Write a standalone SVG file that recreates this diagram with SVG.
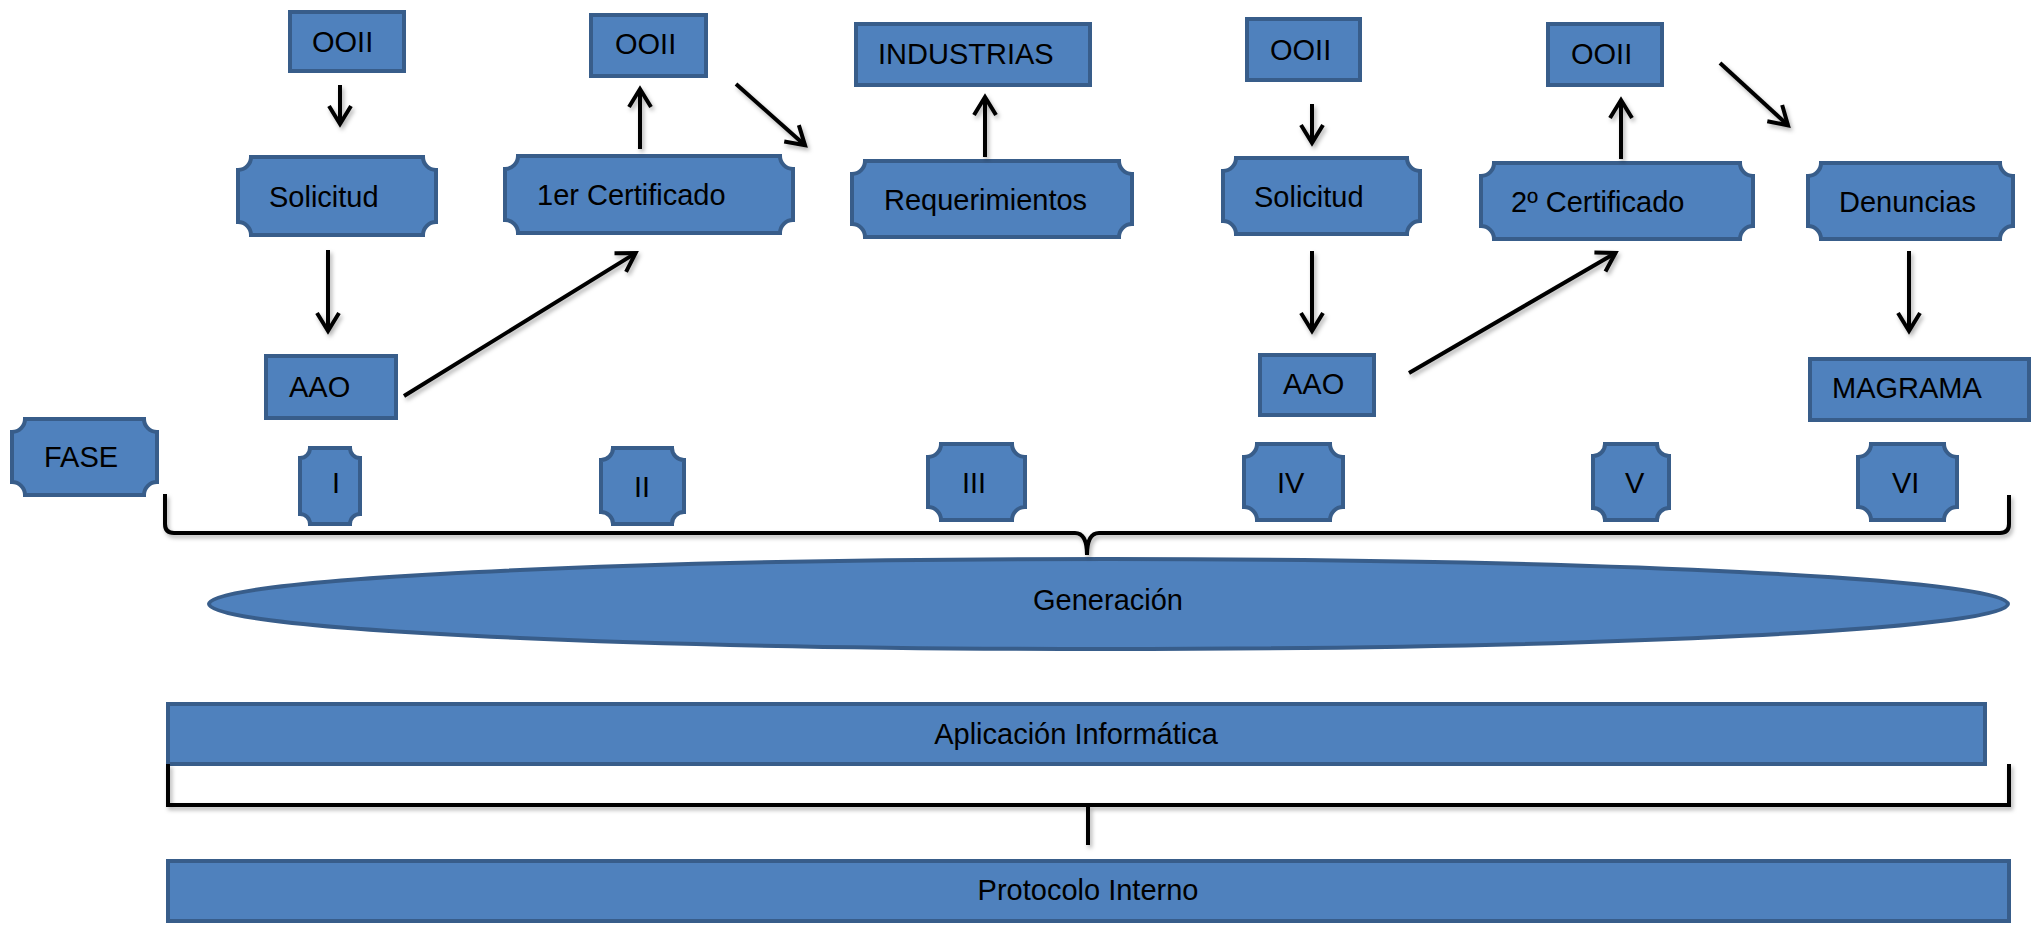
<svg xmlns="http://www.w3.org/2000/svg" width="2040" height="939" viewBox="0 0 2040 939">
  <style>
    .box { fill: #4F81BD; stroke: #385D8A; stroke-width: 4; }
    .lbl { font-family: "Liberation Sans", Arial, sans-serif; font-size: 29px; fill: #000; }
    .arrow { stroke: #000; stroke-width: 4; fill: none; marker-end: url(#head); }
    .brace { stroke: #000; stroke-width: 4; fill: none; }
  </style>
  <defs>
    <marker id="head" viewBox="0 0 24 24" markerWidth="24" markerHeight="24" refX="21" refY="12" orient="auto" markerUnits="userSpaceOnUse" overflow="visible">
      <path d="M3,1 L21,12 L3,23" fill="none" stroke="#000" stroke-width="4"/>
    </marker>
    <filter id="shade" x="-5%" y="-20%" width="110%" height="140%">
      <feDropShadow dx="2" dy="3" stdDeviation="2" flood-color="#000" flood-opacity="0.3"/>
    </filter>
  </defs>

  <rect width="2040" height="939" fill="#fff"/>

  <!-- top row: square boxes -->
  <g id="ooii-1"><rect class="box" x="290" y="12" width="114" height="59"/><text class="lbl" x="312" y="52">OOII</text></g>
  <g id="ooii-2"><rect class="box" x="591" y="15" width="115" height="61"/><text class="lbl" x="615" y="54">OOII</text></g>
  <g id="industrias"><rect class="box" x="856" y="24" width="234" height="61"/><text class="lbl" x="878" y="64">INDUSTRIAS</text></g>
  <g id="ooii-3"><rect class="box" x="1247" y="19" width="113" height="61"/><text class="lbl" x="1270" y="60">OOII</text></g>
  <g id="ooii-4"><rect class="box" x="1548" y="24" width="114" height="61"/><text class="lbl" x="1571" y="64">OOII</text></g>

  <!-- plaque boxes (concave corners) -->
  <g id="solicitud-1"><path class="box" d="M251,157 H423 A13,13 0 0 0 436,170 V222 A13,13 0 0 0 423,235 H251 A13,13 0 0 0 238,222 V170 A13,13 0 0 0 251,157 Z"/><text class="lbl" x="269" y="207">Solicitud</text></g>
  <g id="cert-1"><path class="box" d="M518,156 H780 A13,13 0 0 0 793,169 V220 A13,13 0 0 0 780,233 H518 A13,13 0 0 0 505,220 V169 A13,13 0 0 0 518,156 Z"/><text class="lbl" x="537" y="205">1er Certificado</text></g>
  <g id="requerimientos"><path class="box" d="M865,161 H1119 A13,13 0 0 0 1132,174 V224 A13,13 0 0 0 1119,237 H865 A13,13 0 0 0 852,224 V174 A13,13 0 0 0 865,161 Z"/><text class="lbl" x="884" y="210">Requerimientos</text></g>
  <g id="solicitud-2"><path class="box" d="M1236,158 H1407 A13,13 0 0 0 1420,171 V221 A13,13 0 0 0 1407,234 H1236 A13,13 0 0 0 1223,221 V171 A13,13 0 0 0 1236,158 Z"/><text class="lbl" x="1254" y="207">Solicitud</text></g>
  <g id="cert-2"><path class="box" d="M1494,163 H1740 A13,13 0 0 0 1753,176 V226 A13,13 0 0 0 1740,239 H1494 A13,13 0 0 0 1481,226 V176 A13,13 0 0 0 1494,163 Z"/><text class="lbl" x="1511" y="212">2º Certificado</text></g>
  <g id="denuncias"><path class="box" d="M1821,163 H2000 A13,13 0 0 0 2013,176 V226 A13,13 0 0 0 2000,239 H1821 A13,13 0 0 0 1808,226 V176 A13,13 0 0 0 1821,163 Z"/><text class="lbl" x="1839" y="212">Denuncias</text></g>

  <!-- second level square boxes -->
  <g id="aao-1"><rect class="box" x="266" y="356" width="130" height="62"/><text class="lbl" x="289" y="397">AAO</text></g>
  <g id="aao-2"><rect class="box" x="1260" y="355" width="114" height="60"/><text class="lbl" x="1283" y="394">AAO</text></g>
  <g id="magrama"><rect class="box" x="1810" y="359" width="219" height="61"/><text class="lbl" x="1832" y="398">MAGRAMA</text></g>

  <!-- phase markers -->
  <g id="fase"><path class="box" d="M25,419 H144 A13,13 0 0 0 157,432 V482 A13,13 0 0 0 144,495 H25 A13,13 0 0 0 12,482 V432 A13,13 0 0 0 25,419 Z"/><text class="lbl" x="44" y="467">FASE</text></g>
  <g id="fase-1"><path class="box" d="M310,448 H350 A10,10 0 0 0 360,458 V514 A10,10 0 0 0 350,524 H310 A10,10 0 0 0 300,514 V458 A10,10 0 0 0 310,448 Z"/><text class="lbl" x="332" y="493">I</text></g>
  <g id="fase-2"><path class="box" d="M613,448 H672 A12,12 0 0 0 684,460 V512 A12,12 0 0 0 672,524 H613 A12,12 0 0 0 601,512 V460 A12,12 0 0 0 613,448 Z"/><text class="lbl" x="634" y="497">II</text></g>
  <g id="fase-3"><path class="box" d="M941,444 H1012 A13,13 0 0 0 1025,457 V507 A13,13 0 0 0 1012,520 H941 A13,13 0 0 0 928,507 V457 A13,13 0 0 0 941,444 Z"/><text class="lbl" x="962" y="493">III</text></g>
  <g id="fase-4"><path class="box" d="M1257,444 H1330 A13,13 0 0 0 1343,457 V507 A13,13 0 0 0 1330,520 H1257 A13,13 0 0 0 1244,507 V457 A13,13 0 0 0 1257,444 Z"/><text class="lbl" x="1277" y="493">IV</text></g>
  <g id="fase-5"><path class="box" d="M1605,444 H1657 A12,12 0 0 0 1669,456 V508 A12,12 0 0 0 1657,520 H1605 A12,12 0 0 0 1593,508 V456 A12,12 0 0 0 1605,444 Z"/><text class="lbl" x="1625" y="493">V</text></g>
  <g id="fase-6"><path class="box" d="M1871,444 H1944 A13,13 0 0 0 1957,457 V507 A13,13 0 0 0 1944,520 H1871 A13,13 0 0 0 1858,507 V457 A13,13 0 0 0 1871,444 Z"/><text class="lbl" x="1892" y="493">VI</text></g>

  <!-- lower layers -->
  <g id="generacion"><ellipse class="box" cx="1108.5" cy="604" rx="899.5" ry="45"/><text class="lbl" x="1108" y="610" text-anchor="middle">Generación</text></g>
  <g id="aplicacion"><rect class="box" x="168" y="704" width="1817" height="60"/><text class="lbl" x="1076" y="744" text-anchor="middle">Aplicación Informática</text></g>
  <g id="protocolo"><rect class="box" x="168" y="861" width="1841" height="60"/><text class="lbl" x="1088" y="900" text-anchor="middle">Protocolo Interno</text></g>

  <!-- connectors -->
  <g id="connectors" filter="url(#shade)">
    <line class="arrow" x1="340" y1="85" x2="340" y2="124"/>
    <line class="arrow" x1="328" y1="250" x2="328" y2="331"/>
    <line class="arrow" x1="404" y1="396" x2="635.6" y2="253.1"/>
    <line class="arrow" x1="640" y1="149" x2="640" y2="89"/>
    <line class="arrow" x1="736" y1="84" x2="805" y2="145.3"/>
    <line class="arrow" x1="985" y1="157" x2="985" y2="97"/>
    <line class="arrow" x1="1312" y1="104" x2="1312" y2="143"/>
    <line class="arrow" x1="1312" y1="251" x2="1312" y2="331"/>
    <line class="arrow" x1="1409" y1="373" x2="1615.5" y2="253"/>
    <line class="arrow" x1="1621" y1="159" x2="1621" y2="100"/>
    <line class="arrow" x1="1720" y1="63" x2="1788" y2="125.3"/>
    <line class="arrow" x1="1909" y1="251" x2="1909" y2="331"/>
    <!-- braces -->
    <path class="brace" d="M165,494 V524 Q165,533 174,533 H1075 Q1087,533 1087,555 Q1087,533 1099,533 H2000 Q2009,533 2009,524 V495"/>
    <path class="brace" d="M168,764 V805 H2009 V764 M1088,805 V845"/>
  </g>
</svg>
